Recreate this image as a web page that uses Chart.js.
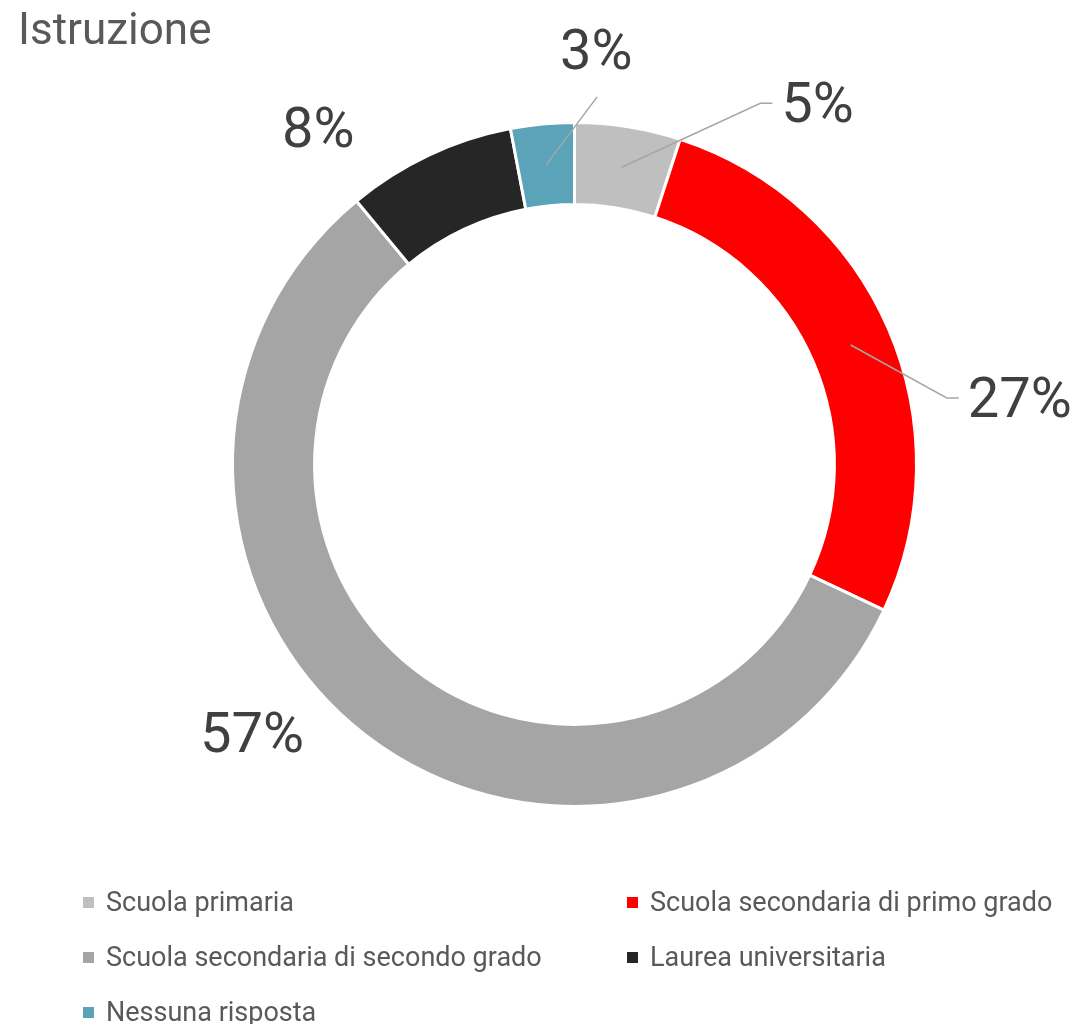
<!DOCTYPE html>
<html>
<head>
<meta charset="utf-8">
<script src="https://cdn.jsdelivr.net/npm/chart.js@4.4.1/dist/chart.umd.min.js"></script>
<style>
  html, body { margin: 0; padding: 0; background: #fff; }
  #wrap { width: 1079px; height: 1024px; position: relative; }
</style>
</head>
<body>
<div id="wrap"><canvas id="istruzione"></canvas></div>
<script>
var categories = ["Scuola primaria", "Scuola secondaria di primo grado", "Scuola secondaria di secondo grado", "Laurea universitaria", "Nessuna risposta"];
var percentages = [5, 27, 57, 8, 3];
var sliceColors = ["#BFBFBF", "#FF0000", "#A5A5A5", "#262626", "#5BA3B8"];

// where each value label sits, relative to the middle of its slice, and how it is tied to it
var labelOffsets = [[196, -65], [169, 52], [-138, 30], [-128, -65], [50, -116]];
var leaderKinds = ["elbow", "elbow", "none", "none", "straight"];

var FONT = "Roboto, 'Noto Sans', sans-serif";

var decorations = {
  id: "decorations",
  afterDraw: function (chart) {
    var c = chart.ctx;
    var arcs = chart.getDatasetMeta(0).data;
    c.save();

    // title
    c.fillStyle = "#595959";
    c.font = "44px " + FONT;
    c.textAlign = "left";
    c.textBaseline = "alphabetic";
    c.fillText("Istruzione", 18, 44);

    // value labels with leader lines
    c.font = "56px " + FONT;
    arcs.forEach(function (arc, i) {
      var p = arc.tooltipPosition();
      var lx = p.x + labelOffsets[i][0];
      var ly = p.y + labelOffsets[i][1];
      var text = percentages[i] + "%";
      var w = c.measureText(text).width;

      c.strokeStyle = "#A6A6A6";
      c.lineWidth = 1.5;
      if (leaderKinds[i] === "elbow") {
        var left = lx - w / 2;
        c.beginPath();
        c.moveTo(p.x, p.y);
        c.lineTo(left - 21, ly + 1);
        c.lineTo(left - 9, ly + 1);
        c.stroke();
      } else if (leaderKinds[i] === "straight") {
        c.beginPath();
        c.moveTo(p.x, p.y);
        c.lineTo(lx + 1, ly + 48);
        c.stroke();
      }

      c.fillStyle = "#404040";
      c.textAlign = "center";
      c.fillText(text, lx, ly + 20);
    });

    // legend in two columns
    c.font = "27px " + FONT;
    c.textAlign = "left";
    var colX = [83, 627];
    var rowY = [911, 966, 1021];
    categories.forEach(function (name, i) {
      var x = colX[i % 2];
      var y = rowY[Math.floor(i / 2)];
      c.fillStyle = sliceColors[i];
      c.fillRect(x, y - 14, 11, 11);
      c.fillStyle = "#595959";
      c.fillText(name, x + 23, y);
    });

    c.restore();
  }
};

new Chart(document.getElementById("istruzione"), {
  type: "doughnut",
  data: {
    labels: categories,
    datasets: [{
      data: percentages,
      backgroundColor: sliceColors,
      borderColor: "#FFFFFF",
      borderWidth: 3
    }]
  },
  options: {
    responsive: true,
    maintainAspectRatio: false,
    animation: false,
    cutout: "76%",
    layout: { padding: { left: 231, right: 161, top: 121, bottom: 216 } },
    plugins: {
      legend: { display: false },
      tooltip: { enabled: false },
      title: { display: false }
    }
  },
  plugins: [decorations]
});
</script>
</body>
</html>
